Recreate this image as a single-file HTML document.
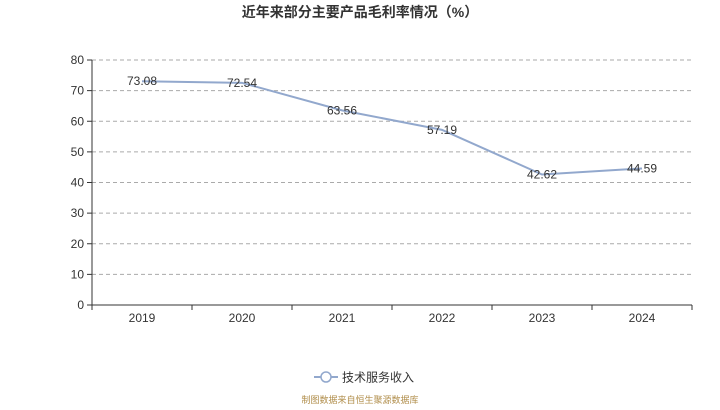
<!DOCTYPE html>
<html><head><meta charset="utf-8"><style>
body{margin:0;background:#fff;width:720px;height:405px;overflow:hidden;font-family:"Liberation Sans","Noto Sans CJK SC",sans-serif}
</style></head><body>
<svg id="c" width="720" height="405" style="font-family:'Liberation Sans','Noto Sans CJK SC',sans-serif">
<text x="360" y="17" text-anchor="middle" font-size="14" font-weight="bold" fill="#333">近年来部分主要产品毛利率情况（%）</text>
<g id="grid"></g><g id="axes"></g><g id="series"></g>
<g>
<line x1="314" y1="377" x2="338" y2="377" stroke="#92a8cd" stroke-width="2"/>
<circle cx="326" cy="377" r="5" fill="#fff" stroke="#92a8cd" stroke-width="1.5"/>
<text x="342" y="381.5" font-size="12" fill="#333">技术服务收入</text>
</g>
<text x="360" y="403" text-anchor="middle" font-size="9" fill="#b08d4a">制图数据来自恒生聚源数据库</text>
</svg>
<script>
const categories=['2019','2020','2021','2022','2023','2024'];
const values=[73.08,72.54,63.56,57.19,42.62,44.59];
const yTicks=[0,10,20,30,40,50,60,70,80];
const ns='http://www.w3.org/2000/svg';
const X0=92,X1=692,Y0=305,Y1=60,YMAX=80;
const bw=(X1-X0)/categories.length;
const x=i=>X0+bw*(i+0.5);
const y=v=>Y0-(v/YMAX)*(Y0-Y1);
function mk(t,a,p){const e=document.createElementNS(ns,t);for(const k in a)e.setAttribute(k,a[k]);p.appendChild(e);return e;}
const G=document.getElementById('grid'),A=document.getElementById('axes'),S=document.getElementById('series');
yTicks.forEach(t=>{
 if(t>0){const l=mk('line',{x1:X0,x2:X1,y1:y(t),y2:y(t),stroke:'#aaa','stroke-dasharray':'4,3'},G);
 
 }
 const k=mk('line',{x1:X0-5,x2:X0,y1:y(t),y2:y(t),stroke:'#333'},A);
 
 
 const tx=mk('text',{x:X0-8,y:y(t)+4,'text-anchor':'end','font-size':12,fill:'#333'},A);tx.textContent=t;
 
 
});
const ya=mk('line',{x1:X0,x2:X0,y1:Y1,y2:Y0,stroke:'#333'},A);


const xa=mk('line',{x1:X0,x2:X1,y1:Y0,y2:Y0,stroke:'#333'},A);


for(let i=0;i<=categories.length;i++){const k=mk('line',{x1:X0+bw*i,x2:X0+bw*i,y1:Y0,y2:Y0+5,stroke:'#333'},A);
 
 }
categories.forEach((c,i)=>{const t=mk('text',{x:x(i),y:Y0+17,'text-anchor':'middle','font-size':12,fill:'#333'},A);t.textContent=c;
 
 });
const p=mk('polyline',{points:values.map((v,i)=>x(i)+','+y(v)).join(' '),fill:'none',stroke:'#92a8cd','stroke-width':2},S);


values.forEach((v,i)=>{const t=mk('text',{x:x(i),y:y(v)+4,'text-anchor':'middle','font-size':12,fill:'#333'},S);t.textContent=v.toFixed(2);
 
 });
</script>
</body></html>
